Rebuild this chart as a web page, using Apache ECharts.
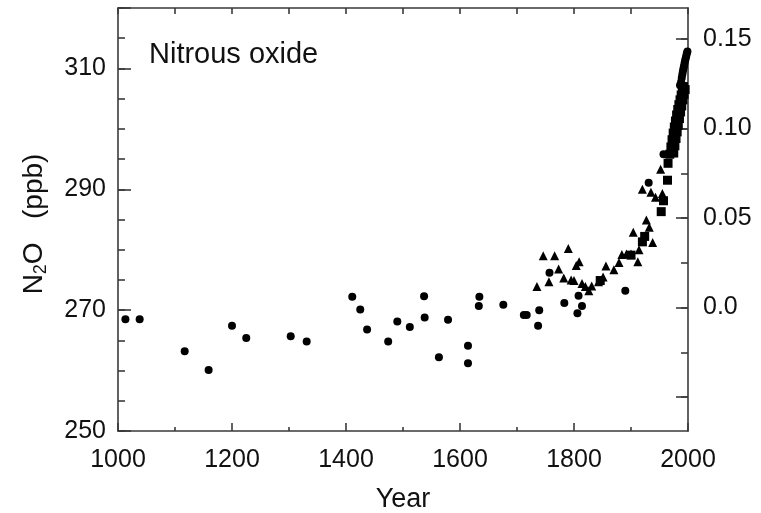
<!DOCTYPE html>
<html><head><meta charset="utf-8">
<script src="https://cdn.jsdelivr.net/npm/echarts@6/dist/echarts.min.js"></script>
<style>html,body{margin:0;padding:0;background:#fff}#c{width:761px;height:513px}</style>
</head><body><div id="c"></div>
<script>
// ---- data ----
const circleYears = [1013,1038,1117,1159,1200,1225,1303,1331,1411,1425,1437,1474,1490,1512,1537,1538,1563,1579,1614,1614,1634,1633,1676,1712,1717,1737,1739,1757,1783,1806,1808,1814,1890,1931,1957,1986,1988,1989,1990,1991,1992,1993,1994,1995,1996,1997,1998,1999];
const circlePpb   = [268.5,268.5,263.2,260.1,267.4,265.4,265.7,264.8,272.2,270.1,266.8,264.8,268.1,267.2,272.3,268.8,262.2,268.4,264.1,261.2,272.2,270.7,270.9,269.2,269.2,267.4,270.0,276.2,271.2,269.5,272.4,270.7,273.2,291.1,295.8,307.2,307.8,308.4,309.0,309.5,310.0,310.4,310.9,311.3,311.7,312.1,312.5,312.8];
const triangleYears = [1735,1746,1756,1766,1773,1782,1790,1795,1800,1804,1809,1814,1820,1826,1831,1843,1851,1856,1870,1879,1884,1892,1900,1904,1912,1914,1920,1927,1932,1935,1938,1943,1952,1955];
const trianglePpb   = [273.9,279.0,274.7,279.0,276.8,275.3,280.2,275.0,274.9,277.4,278.0,274.4,273.9,273.2,274.0,274.7,275.5,277.3,276.7,277.9,279.2,279.3,279.3,282.9,278.0,280.0,290.0,284.9,283.7,289.5,281.2,288.7,293.3,289.3];
const squareYears = [1846,1900,1920,1924,1953,1957,1964,1965,1968,1970,1972,1974,1976,1978,1980,1982,1984,1986,1988,1990,1992,1975,1977,1979,1981,1983,1985,1987,1989,1991,1993,1995];
const squarePpb   = [274.9,279.1,281.3,282.2,286.3,288.1,291.5,294.3,295.8,297.0,298.2,299.3,300.3,301.3,302.3,303.2,304.0,304.8,305.6,306.3,307.0,296.0,297.2,298.4,299.5,300.6,301.7,302.8,303.8,304.8,305.7,306.5];
const xTickLabels = [1000,1200,1400,1600,1800,2000];
const leftTickLabels = [250,270,290,310];
const rightTickLabels = ['0.0','0.05','0.10','0.15'];

const pair = (xs, ys) => xs.map((x, i) => [x, ys[i]]);
const FONT = 'Liberation Sans, Arial, sans-serif';
const AX = '#3a3a3a';
const lineStyle = {color: AX, width: 1.6};
const markStyle = {color: '#000', opacity: 1};
const tickFont = {fontFamily: FONT, fontSize: 25, color: '#111'};

const chart = echarts.init(document.getElementById('c'));
chart.setOption({
  animation: false,
  backgroundColor: '#fff',
  title: {text: 'Nitrous oxide', left: 144, top: 35,
    textStyle: {fontFamily: FONT, fontSize: 29, fontWeight: 'normal', color: '#111'}},
  grid: [
    {left: 118, right: 73, top: 8, bottom: 82, outerBoundsMode: 'none', containLabel: false},
    {left: 118, right: 73, top: 39, bottom: 116, outerBoundsMode: 'none', containLabel: false}
  ],
  xAxis: [
    {gridIndex: 0, type: 'value', position: 'bottom', min: 1000, max: 2000, interval: 200,
      axisLine: {lineStyle}, splitLine: {show: false},
      axisTick: {inside: true, length: 8, lineStyle},
      minorTick: {show: true, splitNumber: 2, length: 4, lineStyle},
      axisLabel: Object.assign({margin: 17,
        formatter: v => xTickLabels.includes(v) ? String(v) : ''}, tickFont),
      name: 'Year', nameLocation: 'middle', nameGap: 55,
      nameTextStyle: {fontFamily: FONT, fontSize: 27, color: '#111'}},
    {gridIndex: 0, type: 'value', position: 'top', min: 1000, max: 2000, interval: 100,
      axisLine: {lineStyle}, splitLine: {show: false},
      axisTick: {inside: true, length: 6, lineStyle}, axisLabel: {show: false}},
    {gridIndex: 1, type: 'value', min: 1000, max: 2000, show: false}
  ],
  yAxis: [
    {gridIndex: 0, type: 'value', position: 'left', min: 250, max: 320, interval: 5,
      axisLine: {show: true, lineStyle}, splitLine: {show: false},
      axisTick: {inside: true, length: 7, lineStyle},
      axisLabel: Object.assign({margin: 12,
        formatter: v => leftTickLabels.includes(v) ? String(v) : ''}, tickFont)},
    {gridIndex: 0, type: 'value', position: 'left', min: 250, max: 320, interval: 20,
      axisLine: {show: false}, splitLine: {show: false},
      axisTick: {inside: true, length: 13, lineStyle}, axisLabel: {show: false}},
    {gridIndex: 0, type: 'value', position: 'right', min: 250, max: 320,
      axisLine: {show: true, lineStyle}, splitLine: {show: false},
      axisTick: {show: false}, axisLabel: {show: false}},
    {gridIndex: 1, type: 'value', position: 'right', min: -0.05, max: 0.15, interval: 0.025,
      axisLine: {show: false}, splitLine: {show: false},
      axisTick: {inside: true, length: 7, lineStyle}, axisLabel: {show: false}},
    {gridIndex: 1, type: 'value', position: 'right', min: -0.05, max: 0.15, interval: 0.05,
      axisLine: {show: false}, splitLine: {show: false},
      axisTick: {inside: true, length: 12, lineStyle},
      axisLabel: Object.assign({margin: 15,
        formatter: v => {
          const idx = [0, 0.05, 0.1, 0.15].findIndex(t => Math.abs(t - v) < 1e-9);
          return idx >= 0 ? rightTickLabels[idx] : '';
        }}, tickFont)}
  ],
  graphic: [{
    type: 'text', x: 34, y: 224, rotation: Math.PI / 2,
    style: {
      text: '{m|N}{s|2}{m|O   (ppb)}',
      align: 'center', verticalAlign: 'middle',
      fill: '#111',
      rich: {
        m: {fontFamily: FONT, fontSize: 28, lineHeight: 32, verticalAlign: 'middle', fill: '#111'},
        s: {fontFamily: FONT, fontSize: 18, verticalAlign: 'bottom', fill: '#111'}
      }
    }
  }],
  series: [
    {type: 'scatter', name: 'circles', xAxisIndex: 0, yAxisIndex: 0, symbol: 'circle', symbolSize: 8,
      itemStyle: markStyle, data: pair(circleYears, circlePpb)},
    {type: 'scatter', name: 'triangles', xAxisIndex: 0, yAxisIndex: 0, symbol: 'triangle', symbolSize: 9,
      itemStyle: markStyle, data: pair(triangleYears, trianglePpb)},
    {type: 'scatter', name: 'squares', xAxisIndex: 0, yAxisIndex: 0, symbol: 'rect', symbolSize: 9,
      itemStyle: markStyle, data: pair(squareYears, squarePpb)}
  ]
});
</script></body></html>
